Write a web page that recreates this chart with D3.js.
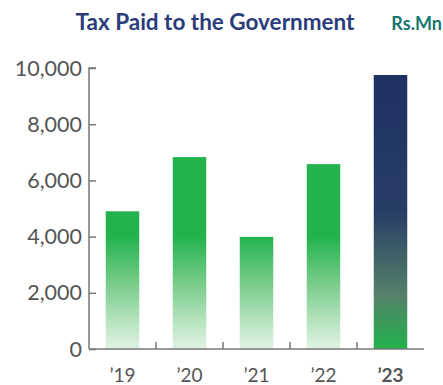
<!DOCTYPE html>
<html>
<head>
<meta charset="utf-8">
<script src="https://cdn.jsdelivr.net/npm/d3@7"></script>
<style>
  body { margin: 0; background: #fff; }
  text { font-family: Lato, "Open Sans", sans-serif; }
</style>
</head>
<body>
<script>
var width = 443,
    height = 385;

var years = ["\u201919", "\u201920", "\u201921", "\u201922", "\u201923"];
var taxPaid = [4900, 6830, 3990, 6580, 9750];
var yTicks = [0, 2000, 4000, 6000, 8000, 10000];

var svg = d3.select("body").append("svg")
    .attr("width", width)
    .attr("height", height);

var x = d3.scaleBand().domain(years).range([89, 424]).paddingInner(0.5).paddingOuter(0.25);
var y = d3.scaleLinear().domain([0, 10000]).range([349, 68]);

var defs = svg.append("defs");

// green bars fade towards the baseline (shared gradient in user space)
var g1 = defs.append("linearGradient")
    .attr("id", "green")
    .attr("gradientUnits", "userSpaceOnUse")
    .attr("x1", 0).attr("x2", 0)
    .attr("y1", y(4000)).attr("y2", y(0));
g1.append("stop").attr("offset", "0%").attr("stop-color", "#23b24c");
g1.append("stop").attr("offset", "45%").attr("stop-color", "#7fcf8f");
g1.append("stop").attr("offset", "100%").attr("stop-color", "#e2f3e5");

// latest year: navy to green
var g2 = defs.append("linearGradient")
    .attr("id", "navy")
    .attr("x1", 0).attr("x2", 0).attr("y1", 0).attr("y2", 1);
g2.append("stop").attr("offset", "0%").attr("stop-color", "#1e3163");
g2.append("stop").attr("offset", "50%").attr("stop-color", "#283d66");
g2.append("stop").attr("offset", "80%").attr("stop-color", "#55806a");
g2.append("stop").attr("offset", "100%").attr("stop-color", "#22b24b");

svg.append("text") //title
    .attr("x", 215).attr("y", 30)
    .attr("text-anchor", "middle")
    .style("font-size", "22.5px")
    .style("font-weight", "bold")
    .style("fill", "#2b3c7b")
    .text("Tax Paid to the Government");

svg.append("text") //unit
    .attr("x", 442).attr("y", 30)
    .attr("text-anchor", "end")
    .style("font-size", "18px")
    .style("font-weight", "bold")
    .style("fill", "#17776c")
    .text("Rs.Mn");

svg.selectAll("rect.bar").data(taxPaid)
  .enter().append("rect")
    .attr("class", "bar")
    .attr("x", function(d, i){ return x(years[i]); })
    .attr("y", function(d){ return y(d); })
    .attr("width", x.bandwidth())
    .attr("height", function(d){ return y(0) - y(d); })
    .attr("fill", function(d, i){ return i == years.length - 1 ? "url(#navy)" : "url(#green)"; });

// y axis
var yAxis = svg.append("g")
    .attr("transform", "translate(89,0)")
    .call(d3.axisRight(y).tickValues(yTicks).tickSize(7).tickFormat(""));
yAxis.select(".domain").attr("d", "M7," + y(10000) + "H0V" + y(0));
yAxis.selectAll("line").attr("stroke", "#777").attr("stroke-width", 1.5);
yAxis.select(".domain").attr("stroke", "#777").attr("stroke-width", 1.5);

svg.selectAll("text.ylab").data(yTicks)
  .enter().append("text")
    .attr("class", "ylab")
    .attr("x", 82)
    .attr("y", function(d){ return y(d) + 7.5; })
    .attr("text-anchor", "end")
    .style("font-size", "21.5px")
    .style("fill", "#555")
    .text(function(d){ return d3.format(",")(d); });

// x axis
svg.append("line")
    .attr("x1", 89).attr("x2", 424)
    .attr("y1", y(0)).attr("y2", y(0))
    .attr("stroke", "#777").attr("stroke-width", 1.5);

svg.selectAll("line.xtick").data(years.slice(1))
  .enter().append("line")
    .attr("class", "xtick")
    .attr("x1", function(d){ return x(d) - x.step() * x.paddingInner() / 2; })
    .attr("x2", function(d){ return x(d) - x.step() * x.paddingInner() / 2; })
    .attr("y1", y(0)).attr("y2", y(0) - 7)
    .attr("stroke", "#777").attr("stroke-width", 1.5);

svg.selectAll("text.xlab").data(years)
  .enter().append("text")
    .attr("class", "xlab")
    .attr("x", function(d){ return x(d) + x.bandwidth() / 2; })
    .attr("y", 382)
    .attr("text-anchor", "middle")
    .style("font-size", "19px")
    .style("font-weight", function(d, i){ return i == years.length - 1 ? "bold" : "normal"; })
    .style("fill", "#555")
    .text(function(d){ return d; });
</script>
</body>
</html>
